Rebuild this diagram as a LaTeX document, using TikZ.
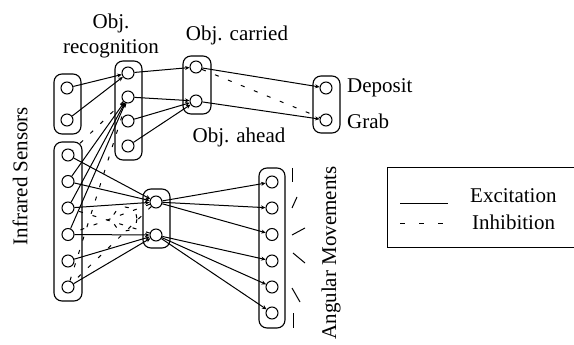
\documentclass[tikz,border=0pt]{standalone}
\usepackage{fontspec}
\setmainfont{Liberation Serif}
\newfontfamily\figfont{Liberation Serif}
\usetikzlibrary{arrows.meta}

\begin{document}
\begin{tikzpicture}[
  x=1pt, y=-1pt,
  font=\figfont\fontsize{21}{25}\selectfont,
  unit/.style={draw, circle, minimum size=12pt, inner sep=0pt, line width=1pt, fill=white},
  layer/.style={draw, rounded corners=8pt, minimum width=27pt, inner sep=0pt, line width=1.1pt},
  exc/.style={-{Stealth[length=4.5pt, width=4pt]}, line width=1pt},
  inh/.style={line width=1pt, dash pattern=on 4pt off 10pt},
  lane/.style={rotate=90},
  tick/.style={line width=1pt},
]
  \useasboundingbox (0,0) rectangle (574,345);

  % groups
  \node[layer, minimum height=60pt]  (frontbox) at (67.5,104)  {};
  \node[layer, minimum height=99pt]  (recbox)   at (128.5,110.5) {};
  \node[layer, minimum height=58pt, minimum width=28pt] (objbox) at (197,85) {};
  \node[layer, minimum height=57pt]  (actbox)   at (326.5,104.5) {};
  \node[layer, minimum height=159pt, minimum width=28pt] (irbox) at (68,221.5) {};
  \node[layer, minimum height=59pt]  (midbox)   at (156.5,218.5) {};
  \node[layer, minimum height=160pt, minimum width=26pt] (angbox) at (272,248) {};

  % labels
  \node[align=center, inner sep=0pt] (reclabel) at (111,36) {Obj.\\recognition};
  \node (carried) at (237,35)  {Obj. carried};
  \node (ahead)   at (239,137) {Obj. ahead};
  \node[anchor=west, inner sep=0pt] (deposit) at (347,88)  {Deposit};
  \node[anchor=west, inner sep=0pt] (grab)    at (347,121) {Grab};
  \node[lane] (irlabel)  at (20,176)  {Infrared Sensors};
  \node[lane] (anglabel) at (331,253) {Angular Movements};

  % units
  \node[unit] (a1) at (67,88)  {};
  \node[unit] (a2) at (67,120) {};

  \node[unit] (r1) at (128,73)  {};
  \node[unit] (r2) at (128,97)  {};
  \node[unit] (r3) at (128,121) {};
  \node[unit] (r4) at (128,146) {};

  \node[unit] (c1) at (196,67)  {};
  \node[unit] (c2) at (196,101) {};

  \node[unit] (d1) at (326,88)  {};
  \node[unit] (d2) at (326,120) {};

  \node[unit] (e1) at (68,155)   {};
  \node[unit] (e2) at (68,181.5) {};
  \node[unit] (e3) at (68,208)   {};
  \node[unit] (e4) at (68,234.5) {};
  \node[unit] (e5) at (68,261)   {};
  \node[unit] (e6) at (68,287)   {};

  \node[unit] (f1) at (156,202) {};
  \node[unit] (f2) at (156,235) {};

  \node[unit] (g1) at (272,182)   {};
  \node[unit] (g2) at (272,208)   {};
  \node[unit] (g3) at (272,234.5) {};
  \node[unit] (g4) at (272,261)   {};
  \node[unit] (g5) at (272,287)   {};
  \node[unit] (g6) at (272,313)   {};

  % excitation
  \draw[exc] (a1) -- (r1);
  \draw[exc] (a2) -- (r1);
  \draw[exc] (e2) -- (r2);
  \draw[exc] (e3) -- (r2);
  \draw[exc] (e4) -- (r2);

  \draw[exc] (r1) -- (c1);
  \draw[exc] (r2) -- (c2);
  \draw[exc] (r3) -- (c2);
  \draw[exc] (r4) -- (c2);
  \draw[exc] (c1) -- (d1);
  \draw[exc] (c2) -- (d2);

  \draw[exc] (e1) -- (f1);
  \draw[exc] (e2) -- (f1);
  \draw[exc] (e3) -- (f1);
  \draw[exc] (e4) -- (f2);
  \draw[exc] (e5) -- (f2);
  \draw[exc] (e6) -- (f2);

  \draw[exc] (f1) -- (g1);
  \draw[exc] (f1) -- (g2);
  \draw[exc] (f1) -- (g3);
  \draw[exc] (f2) -- (g4);
  \draw[exc] (f2) -- (g5);
  \draw[exc] (f2) -- (g6);

  % inhibition
  \draw[inh] (c1) -- (d2);
  \draw[inh] (r2) -- (e1);
  \draw[inh] (r2) -- (e6);
  \draw[inh] (f2) -- (e3);
  \draw[inh] (f1) -- (e4);
  \draw[inh] (f1) -- (e6);
  \draw[inh] (125,219) circle (12);

  % movement directions
  \draw[tick] (292,168) -- (292,182);
  \draw[tick] (292,208) -- (297,197);
  \draw[tick] (292,235) -- (305,228);
  \draw[tick] (293,253) -- (305,263);
  \draw[tick] (292,288) -- (300,302);
  \draw[tick] (293,313) -- (293,328);

  % legend
  \draw[line width=1pt] (580,168) -- (387,168) -- (387,247) -- (580,247);
  \coordinate (exa) at (400,203);
  \coordinate (exb) at (448,203);
  \coordinate (ina) at (400,223);
  \coordinate (inb) at (448,223);
  \draw[line width=1pt] (exa) -- (exb);
  \draw[line width=1pt, dash pattern=on 5pt off 14pt] (ina) -- (inb);
  \node[anchor=west, inner sep=0pt] (exlabel) at (470,196) {Excitation};
  \node[anchor=west, inner sep=0pt] (inlabel) at (472,222) {Inhibition};
\end{tikzpicture}
\end{document}
